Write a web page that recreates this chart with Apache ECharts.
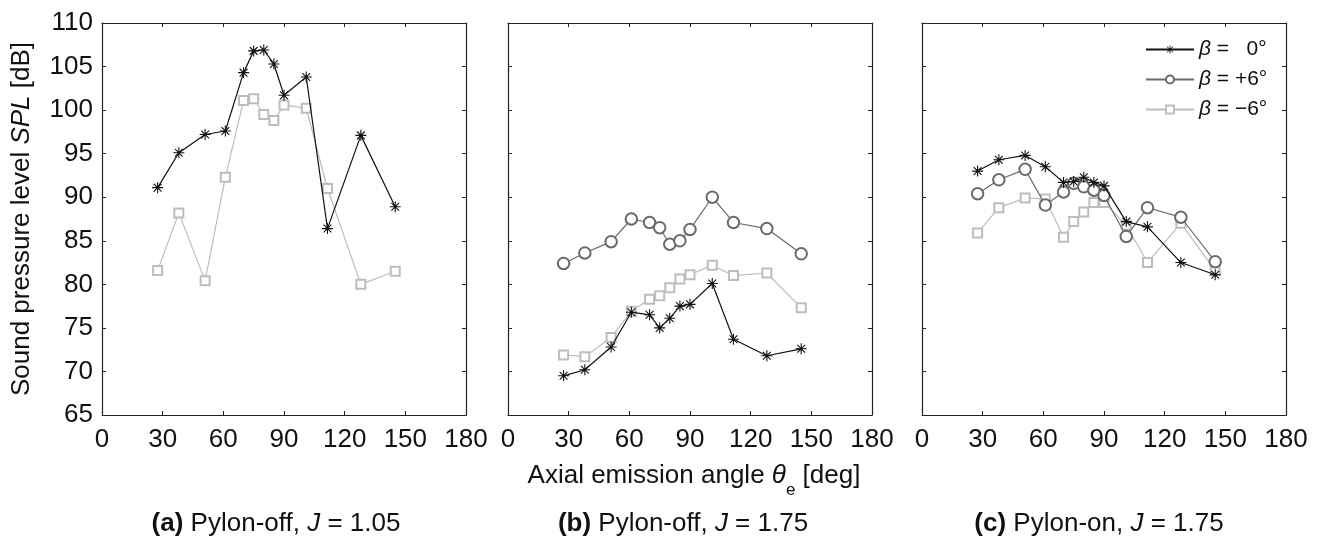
<!DOCTYPE html>
<html><head><meta charset="utf-8">
<script src="https://cdn.jsdelivr.net/npm/echarts@6/dist/echarts.min.js"></script>
<style>html,body{margin:0;padding:0;background:#fff}#c{width:1318px;height:541px}</style>
</head><body><div id="c"></div>
<script>
// ---- data ----
const angles = [27.5, 38, 51, 61, 70, 75, 80, 85, 90, 101, 111.5, 128, 145];
// (a) Pylon-off, J = 1.05
const aZero  = [91.1, 95.1, 97.2, 97.6, 104.3, 106.8, 106.9, 105.3, 101.7, 103.8, 86.4, 97.1, 88.9];
const aMinus = [81.6, 88.2, 80.4, 92.3, 101.1, 101.3, 99.5, 98.8, 100.6, 100.2, 91.0, 80.0, 81.5];
// (b) Pylon-off, J = 1.75
const bZero  = [69.5, 70.2, 72.8, 76.8, 76.5, 75.0, 76.1, 77.5, 77.7, 80.1, 73.7, 71.8, 72.6];
const bPlus  = [82.4, 83.6, 84.9, 87.5, 87.1, 86.5, 84.6, 85.0, 86.3, 90.0, 87.1, 86.4, 83.5];
const bMinus = [71.9, 71.7, 73.9, 76.9, 78.3, 78.7, 79.6, 80.6, 81.1, 82.2, 81.0, 81.3, 77.3];
// (c) Pylon-on, J = 1.75
const cZero  = [93.0, 94.3, 94.8, 93.5, 91.7, 91.8, 92.3, 91.7, 91.3, 87.2, 86.6, 82.5, 81.1];
const cPlus  = [90.4, 92.0, 93.2, 89.1, 90.6, 91.6, 91.2, 90.8, 90.2, 85.5, 88.8, 87.7, 82.6];
const cMinus = [85.9, 88.8, 89.9, 89.8, 85.4, 87.2, 88.3, 89.4, 89.4, 86.8, 82.5, 87.0, 81.6];

const seriesNames = ['β =   0°', 'β = +6°', 'β = −6°'];
const xTickMin = 0, xTickMax = 180, xTickStep = 30;
const yTickMin = 65, yTickMax = 110, yTickStep = 5;
const yTitle = '{a|Sound pressure level }{i|SPL}{a| [dB]}';
const xTitle = '{a|Axial emission angle }{i|θ}{s|e}{a| [deg]}';
const captions = [
  '{b|(a)}{a| Pylon-off, }{i|J}{a| = 1.05}',
  '{b|(b)}{a| Pylon-off, }{i|J}{a| = 1.75}',
  '{b|(c)}{a| Pylon-on, }{i|J}{a| = 1.75}'
];

// ---- style ----
const FF = 'Liberation Sans, Arial, Helvetica, sans-serif';
const STAR = 'path://M9 0H11V20H9Z M0 9H20V11H0Z M3.64 2.22L17.78 16.36L16.36 17.78L2.22 3.64Z M16.36 2.22L17.78 3.64L3.64 17.78L2.22 16.36Z';
const styles = [
  {symbol: STAR, size: 11, color: '#111', z: 5},
  {symbol: 'emptyCircle', size: 11.5, color: '#6a6a6a', z: 4},
  {symbol: 'emptyRect', size: 9, color: '#bdbdbd', z: 3}
];
const gridLefts = [102, 508, 922];
const gridTop = 23, gridW = 364, gridH = 392;
const axisCol = '#222';

function pairs(vals) { return angles.map((a, i) => [a, vals[i]]); }

const grids = gridLefts.map(l => ({left: l, top: gridTop, width: gridW, height: gridH}));

const xAxes = [], yAxes = [];
for (let k = 0; k < 2; k++) {
  for (let i = 0; i < 3; i++) {
    xAxes.push({
      type: 'value', gridIndex: i, position: k === 0 ? 'bottom' : 'top',
      min: xTickMin, max: xTickMax, interval: xTickStep,
      axisLine: {show: true, onZero: false, lineStyle: {color: axisCol, width: 1.2}},
      axisTick: {show: true, inside: true, length: 4, lineStyle: {color: axisCol, width: 1}},
      axisLabel: {show: k === 0, margin: 12, color: '#111', fontSize: 26, fontFamily: FF},
      splitLine: {show: false}
    });
  }
}
for (let k = 0; k < 2; k++) {
  for (let i = 0; i < 3; i++) {
    const y = {
      type: 'value', gridIndex: i, position: k === 0 ? 'left' : 'right',
      min: yTickMin, max: yTickMax, interval: yTickStep,
      axisLine: {show: true, onZero: false, lineStyle: {color: axisCol, width: 1.2}},
      axisTick: {show: true, inside: true, length: 4, lineStyle: {color: axisCol, width: 1}},
      axisLabel: {show: k === 0 && i === 0, margin: 9, color: '#111', fontSize: 26, fontFamily: FF},
      splitLine: {show: false}
    };
    if (k === 0 && i === 0) {
      y.name = yTitle;
      y.nameLocation = 'middle';
      y.nameGap = 67;
      y.nameTextStyle = {
        rich: {
          a: {fontSize: 26, fontFamily: FF, color: '#111'},
          i: {fontSize: 26, fontFamily: FF, color: '#111', fontStyle: 'italic'}
        }
      };
    }
    yAxes.push(y);
  }
}

function mk(panel, which, vals) {
  const st = styles[which];
  return {
    type: 'line', name: seriesNames[which], xAxisIndex: panel, yAxisIndex: panel,
    data: pairs(vals), symbol: st.symbol, symbolSize: st.size, showAllSymbol: true,
    z: st.z, animation: false,
    lineStyle: {color: st.color, width: 1.2},
    itemStyle: {color: st.color, borderColor: st.color, borderWidth: which === 0 ? 0 : 1.2}
  };
}

const series = [
  mk(0, 0, aZero), mk(0, 2, aMinus),
  mk(1, 0, bZero), mk(1, 1, bPlus), mk(1, 2, bMinus),
  mk(2, 0, cZero), mk(2, 1, cPlus), mk(2, 2, cMinus)
];

const CF = 26;
const richBase = {
  a: {fontSize: CF, fontFamily: FF, fill: '#111', color: '#111'},
  b: {fontSize: CF, fontFamily: FF, fill: '#111', color: '#111', fontWeight: 'bold'},
  i: {fontSize: CF, fontFamily: FF, fill: '#111', color: '#111', fontStyle: 'italic'}
};
const captionX = [276, 683, 1099];
const graphics = captions.map((t, i) => ({
  type: 'text', x: captionX[i], y: 524, silent: true,
  style: {text: t, rich: richBase, align: 'center', verticalAlign: 'middle', textAlign: 'center', textVerticalAlign: 'middle', fontSize: CF, fontFamily: FF, fill: '#111'}
}));
graphics.push({
  type: 'text', x: 694, y: 490, silent: true,
  style: {
    text: xTitle, align: 'center', verticalAlign: 'middle', textAlign: 'center', textVerticalAlign: 'middle',
    fontSize: 26, fontFamily: FF, fill: '#111',
    rich: {
      a: {fontSize: 26, fontFamily: FF, fill: '#111', lineHeight: 26, verticalAlign: 'top'},
      i: {fontSize: 26, fontFamily: FF, fill: '#111', fontStyle: 'italic', lineHeight: 26, verticalAlign: 'top'},
      s: {fontSize: 17, fontFamily: FF, fill: '#111', lineHeight: 55, verticalAlign: 'middle'}
    }
  }
});

const chart = echarts.init(document.getElementById('c'), null, {renderer: 'canvas'});
chart.setOption({
  animation: false,
  backgroundColor: '#fff',
  grid: grids,
  xAxis: xAxes,
  yAxis: yAxes,
  legend: {
    data: seriesNames, orient: 'vertical', left: 1140, top: 34,
    itemWidth: 48, itemHeight: 10, itemGap: 9,
    formatter: n => '{i|β}' + n.slice(1),
    textStyle: {fontSize: 21, fontFamily: FF, color: '#111',
      rich: {i: {fontSize: 21, fontFamily: FF, color: '#111', fontStyle: 'italic'}}},
    selectedMode: false
  },
  graphic: graphics,
  series: series
});
</script>
</body></html>
